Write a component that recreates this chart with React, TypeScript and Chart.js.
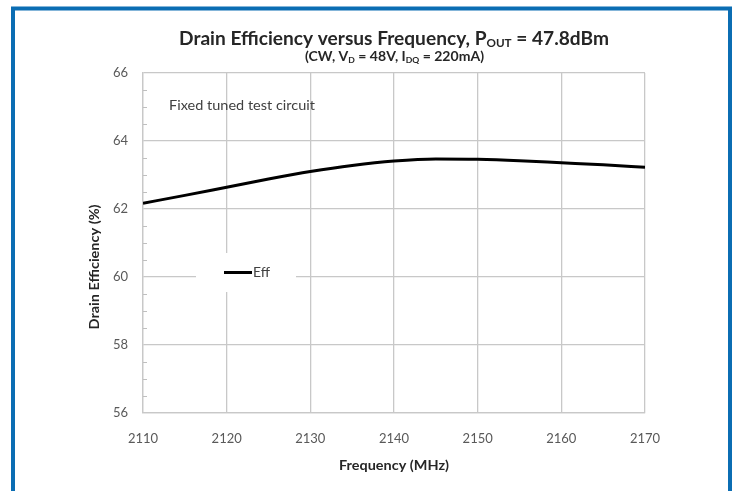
import React, { useEffect, useRef } from "react";
import { Chart, registerables } from "chart.js";

Chart.register(...registerables);

const frequencies = [2110, 2115, 2120, 2125, 2130, 2135, 2140, 2145, 2150, 2155, 2160, 2165, 2170];
const efficiency = [62.17, 62.4, 62.64, 62.88, 63.1, 63.28, 63.41, 63.47, 63.46, 63.42, 63.36, 63.3, 63.23];
const seriesName = "Eff";
const titleParts = [
  { t: "Drain Efficiency versus Frequency, P", sub: false },
  { t: "OUT", sub: true },
  { t: " = 47.8dBm", sub: false },
];
const subtitleParts = [
  { t: "(CW, V", sub: false },
  { t: "D", sub: true },
  { t: " = 48V, I", sub: false },
  { t: "DQ", sub: true },
  { t: " = 220mA)", sub: false },
];
const annotationText = "Fixed tuned test circuit";
const xAxisTitle = "Frequency (MHz)";
const yAxisTitle = "Drain Efficiency (%)";

const FONT = "Lato, 'Open Sans', sans-serif";

function drawParts(ctx: CanvasRenderingContext2D, parts: { t: string; sub: boolean }[], size: number, subSize: number, cx: number, cy: number, targetW: number, bold = true) {
  ctx.save();
  ctx.textBaseline = "middle";
  ctx.textAlign = "left";
  const wt = bold ? "bold " : "";
  let w = 0;
  const widths: number[] = [];
  for (const p of parts) {
    ctx.font = `${wt}${p.sub ? subSize : size}px ${FONT}`;
    const mw = ctx.measureText(p.t).width;
    widths.push(mw);
    w += mw;
  }
  const sx = targetW / w;
  ctx.translate(cx - targetW / 2, cy);
  ctx.scale(sx, 1);
  let x = 0;
  parts.forEach((p, i) => {
    ctx.font = `${wt}${p.sub ? subSize : size}px ${FONT}`;
    ctx.fillText(p.t, x, p.sub ? size * 0.25 : 0);
    x += widths[i];
  });
  ctx.restore();
}

const decorPlugin = {
  id: "decor",
  beforeDraw(chart: any) {
    const ctx = chart.ctx as CanvasRenderingContext2D;
    ctx.save();
    ctx.fillStyle = "#ffffff";
    ctx.fillRect(0, 0, chart.width, chart.height);
    ctx.strokeStyle = "#0b6db3";
    ctx.lineWidth = 4;
    ctx.beginPath();
    ctx.moveTo(13, 500);
    ctx.lineTo(13, 8.5);
    ctx.lineTo(730, 8.5);
    ctx.lineTo(730, 500);
    ctx.stroke();
    ctx.restore();
  },
  afterDraw(chart: any) {
    const ctx = chart.ctx as CanvasRenderingContext2D;
    const area = chart.chartArea;
    const yScale = chart.scales.y;
    // minor ticks
    ctx.save();
    ctx.strokeStyle = "#bfbfbf";
    ctx.lineWidth = 1;
    for (let v = 56.5; v < 66; v += 0.5) {
      if (Math.abs(v % 2) < 1e-6) continue;
      const y = Math.round(yScale.getPixelForValue(v)) + 0.5;
      ctx.beginPath();
      ctx.moveTo(area.left, y);
      ctx.lineTo(area.left + 4, y);
      ctx.stroke();
    }
    ctx.restore();

    // titles
    ctx.save();
    ctx.fillStyle = "#262626";
    drawParts(ctx, titleParts, 18, 11, 394, 39, 430);
    drawParts(ctx, subtitleParts, 13, 8, 394.5, 57, 179);
    ctx.restore();

    // axis titles
    ctx.save();
    ctx.fillStyle = "#262626";
    drawParts(ctx, [{ t: xAxisTitle, sub: false }], 13, 8, 394, 466, 110);
    ctx.translate(95, 267);
    ctx.rotate(-Math.PI / 2);
    drawParts(ctx, [{ t: yAxisTitle, sub: false }], 13, 8, 0, 0, 125);
    ctx.restore();

    // annotation
    ctx.save();
    ctx.fillStyle = "#404040";
    drawParts(ctx, [{ t: annotationText, sub: false }], 13, 8, 169 + 73, 106, 146, false);
    ctx.restore();

    // legend
    ctx.save();
    ctx.fillStyle = "#ffffff";
    ctx.fillRect(196, 253, 100, 39);
    ctx.strokeStyle = "#000000";
    ctx.lineWidth = 3;
    ctx.beginPath();
    ctx.moveTo(224, 272.5);
    ctx.lineTo(252, 272.5);
    ctx.stroke();
    ctx.fillStyle = "#404040";
    drawParts(ctx, [{ t: seriesName, sub: false }], 13, 8, 253 + 8.5, 273, 17, false);
    ctx.restore();
  },
};

export default function App() {
  const ref = useRef<HTMLCanvasElement>(null);
  useEffect(() => {
    if (!ref.current) return;
    const chart = new Chart(ref.current, {
      type: "line",
      data: {
        datasets: [
          {
            label: seriesName,
            data: frequencies.map((f, i) => ({ x: f, y: efficiency[i] })),
            borderColor: "#000000",
            borderWidth: 3,
            pointRadius: 0,
            tension: 0.4,
            cubicInterpolationMode: "monotone",
            fill: false,
          },
        ],
      },
      options: {
        responsive: false,
        animation: false,
        devicePixelRatio: 1,
        layout: { padding: { top: 73, right: 95, left: 0, bottom: 0 } },
        plugins: { legend: { display: false }, tooltip: { enabled: false }, title: { display: false } },
        scales: {
          x: {
            type: "linear",
            min: 2110,
            max: 2170,
            ticks: {
              stepSize: 10,
              color: "#595959",
              font: { family: FONT, size: 13 },
              padding: 18,
              callback: (v: any) => String(v),
            },
            grid: { color: "#c8c8c8", lineWidth: 1.3, drawTicks: false },
            border: { color: "#c8c8c8", width: 1.3 },
            afterFit: (s: any) => {
              s.height = 491 - 413;
            },
          },
          y: {
            min: 56,
            max: 66,
            ticks: {
              stepSize: 2,
              color: "#595959",
              font: { family: FONT, size: 13 },
              padding: 15,
              callback: (v: any) => String(v),
            },
            grid: { color: "#c8c8c8", lineWidth: 1.3, drawTicks: false },
            border: { color: "#c8c8c8", width: 1.3 },
            afterFit: (s: any) => {
              s.width = 143;
            },
          },
        },
      },
      plugins: [decorPlugin],
    } as any);
    return () => chart.destroy();
  }, []);
  return (
    <div style={{ position: "absolute", left: 0, top: 0, width: 740, height: 491 }}>
      <canvas ref={ref} width={740} height={491} style={{ width: 740, height: 491, display: "block" }} />
    </div>
  );
}
